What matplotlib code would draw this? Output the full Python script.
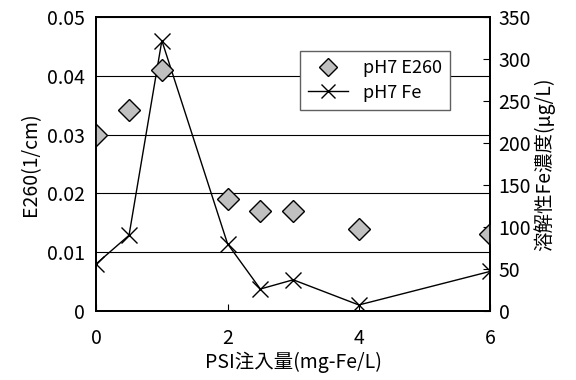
import matplotlib.pyplot as plt
from matplotlib.ticker import MultipleLocator

plt.rcParams['font.family'] = ['Noto Sans CJK JP', 'DejaVu Sans']

# PSI dose (mg-Fe/L)
psi = [0, 0.5, 1, 2, 2.5, 3, 4, 6]
# E260 (1/cm)
e260 = [0.030, 0.0342, 0.041, 0.019, 0.017, 0.017, 0.014, 0.013]
# dissolved Fe (ug/L)
fe = [56, 90, 322, 80, 26, 37, 7, 47]

fig = plt.figure(figsize=(5.76, 3.8), dpi=100)
ax = fig.add_axes([0.167, 0.182, 0.684, 0.773])
ax2 = ax.twinx()

ax.set_zorder(ax2.get_zorder() + 1)
ax.patch.set_visible(False)

ax.plot(psi, e260, linestyle='none', marker='D', markersize=11,
        markerfacecolor='#c0c0c0', markeredgecolor='black', markeredgewidth=1,
        label='pH7 E260')
ax2.plot(psi, fe, color='black', linewidth=1, marker='x', markersize=12,
         markeredgewidth=1, label='pH7 Fe')

ax.set_xlim(0, 6)
ax.set_ylim(0, 0.05)
ax2.set_ylim(0, 350)
ax.set_xticks([0, 2, 4, 6])
ax.set_yticks([0, 0.01, 0.02, 0.03, 0.04, 0.05])
ax.set_yticklabels(['0', '0.01', '0.02', '0.03', '0.04', '0.05'])
ax2.yaxis.set_major_locator(MultipleLocator(50))

for a in (ax, ax2):
    for s in a.spines.values():
        s.set_linewidth(1.3)
ax.grid(axis='y', color='black', linewidth=0.8)
ax.tick_params(axis='y', length=0, labelsize=14, pad=8)
ax.tick_params(axis='x', direction='in', length=5, labelsize=14, pad=12)
ax2.tick_params(axis='y', direction='in', length=5, labelsize=14, pad=6)

ax.set_xlabel('PSI注入量(mg-Fe/L)', fontsize=14, labelpad=2)
ax.set_ylabel('E260(1/cm)', fontsize=14, labelpad=4)
ax2.set_ylabel('溶解性Fe濃度(μg/L)', fontsize=14, labelpad=2)

h1, l1 = ax.get_legend_handles_labels()
h2, l2 = ax2.get_legend_handles_labels()
leg = ax.legend(h1 + h2, l1 + l2, loc='upper right', bbox_to_anchor=(0.92, 0.915),
                fontsize=13, frameon=True, fancybox=False, framealpha=1,
                edgecolor='#606060', handlelength=2.2, borderpad=0.45,
                labelspacing=0.35, markerscale=0.8)
leg.get_frame().set_linewidth(1)

fig.savefig('out.png', dpi=100)
